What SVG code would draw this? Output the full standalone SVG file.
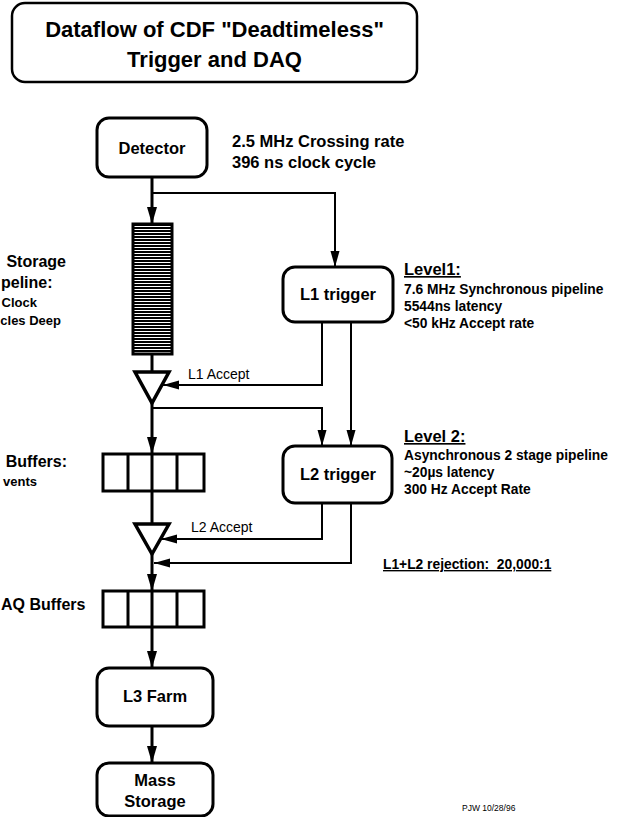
<svg xmlns="http://www.w3.org/2000/svg" width="619" height="817" viewBox="0 0 619 817">
<style>
text{font-family:"Liberation Sans",Arial,Helvetica,sans-serif;fill:#000}
.box{fill:#fff;stroke:#000;stroke-width:3}
.title{font-size:22px;font-weight:bold;text-anchor:middle}
.lbl{font-size:16.5px;font-weight:bold;text-anchor:middle}
.note{font-size:16.5px;font-weight:bold}
.sub{font-size:13.8px;font-weight:bold}
.side{font-size:16px;font-weight:bold;text-anchor:end}
.sides{font-size:13px;font-weight:bold;text-anchor:end}
.acc{font-size:14px}
.thick{fill:none;stroke:#000;stroke-width:3}
.thin{fill:none;stroke:#000;stroke-width:2}
.tri{fill:#fff;stroke:#000;stroke-width:3.5;stroke-linejoin:miter}
.cell{fill:#fff;stroke:#000;stroke-width:3}
</style>
<defs>
<marker id="big" markerUnits="userSpaceOnUse" markerWidth="18" markerHeight="12" refX="17" refY="6" orient="auto">
<path d="M0,1 L17,6 L0,11 z" fill="#000"/>
</marker>
<marker id="small" markerUnits="userSpaceOnUse" markerWidth="17" markerHeight="10" refX="16" refY="5" orient="auto">
<path d="M0,0.5 L16,5 L0,9.5 z" fill="#000"/>
</marker>
<pattern id="stripes" patternUnits="userSpaceOnUse" x="0" y="224" width="40" height="3">
<rect x="0" y="0" width="40" height="3" fill="#fff"/>
<rect x="0" y="0" width="40" height="2" fill="#000"/>
</pattern>
</defs>

<g id="title">
<rect x="12" y="3" width="405" height="79" rx="13" fill="#fff" stroke="#000" stroke-width="2.5"/>
<text class="title" x="214.5" y="37">Dataflow of CDF "Deadtimeless"</text>
<text class="title" x="214.5" y="67">Trigger and DAQ</text>
</g>

<g id="connectors">
<path class="thick" d="M152,177 V224" marker-end="url(#big)"/>
<path class="thin" d="M152,193 H335 V267" marker-end="url(#small)"/>
<path class="thick" d="M152,354 V372"/>
<path class="thin" d="M322,322 V385 H163" marker-end="url(#small)"/>
<path class="thick" d="M152,403 V454" marker-end="url(#big)"/>
<path class="thin" d="M152,408 H322 V446" marker-end="url(#small)"/>
<path class="thin" d="M351,322 V446" marker-end="url(#small)"/>
<path class="thick" d="M152,491 V524"/>
<path class="thin" d="M322,503 V539 H161" marker-end="url(#small)"/>
<path class="thin" d="M351,503 V563 H154" marker-end="url(#small)"/>
<path class="thick" d="M152,554 V591" marker-end="url(#big)"/>
<path class="thick" d="M152,627 V668" marker-end="url(#big)"/>
<path class="thick" d="M152,726 V763" marker-end="url(#big)"/>
</g>

<g id="detector">
<rect class="box" x="97" y="118" width="110" height="59" rx="12"/>
<text class="lbl" x="152" y="154">Detector</text>
</g>
<g id="detector-note">
<text class="note" x="232" y="147">2.5 MHz Crossing rate</text>
<text class="note" x="232" y="168">396 ns clock cycle</text>
</g>

<g id="pipeline">
<rect x="133" y="224" width="39" height="130" fill="url(#stripes)" stroke="#000" stroke-width="3"/>
</g>
<g id="pipeline-label">
<text class="side" x="66" y="267">Storage</text>
<text class="side" x="1" y="288" text-anchor="start" style="text-anchor:start">peline:</text>
<text class="sides" x="37" y="307">Clock</text>
<text class="sides" x="61" y="325">cles Deep</text>
</g>

<g id="l1-gate">
<polygon class="tri" points="135,372 169,372 152,403"/>
<text class="acc" x="188" y="379">L1 Accept</text>
</g>

<g id="l1-trigger">
<rect class="box" x="283" y="267" width="110" height="55" rx="12"/>
<text class="lbl" x="338" y="300">L1 trigger</text>
</g>
<g id="level1-note">
<text class="note" x="404" y="275" text-decoration="underline">Level1:</text>
<text class="sub" x="404" y="294">7.6 MHz Synchronous pipeline</text>
<text class="sub" x="404" y="311">5544ns latency</text>
<text class="sub" x="404" y="328">&lt;50 kHz Accept rate</text>
</g>

<g id="l1-buffers">
<rect class="cell" x="103" y="454" width="101" height="37"/>
<path class="thick" d="M128,454 V491 M152,454 V491 M177,454 V491"/>
</g>
<g id="l1-buffers-label">
<text class="side" x="67" y="467">Buffers:</text>
<text class="sides" x="37" y="486">vents</text>
</g>

<g id="l2-trigger">
<rect class="box" x="283" y="446" width="109" height="57" rx="12"/>
<text class="lbl" x="338" y="480">L2 trigger</text>
</g>
<g id="level2-note">
<text class="note" x="404" y="442" text-decoration="underline">Level 2:</text>
<text class="sub" x="404" y="460">Asynchronous 2 stage pipeline</text>
<text class="sub" x="404" y="477">~20µs latency</text>
<text class="sub" x="404" y="494">300 Hz Accept Rate</text>
</g>

<g id="l2-gate">
<polygon class="tri" points="135,524 169,524 152,554"/>
<text class="acc" x="191" y="532">L2 Accept</text>
</g>

<g id="rejection-note">
<text class="sub" x="383" y="569" text-decoration="underline">L1+L2 rejection:&#160; 20,000:1</text>
</g>

<g id="daq-buffers">
<rect class="cell" x="103" y="591" width="101" height="36"/>
<path class="thick" d="M128,591 V627 M152,591 V627 M177,591 V627"/>
</g>
<g id="daq-buffers-label">
<text class="side" x="1" y="610" style="text-anchor:start">AQ Buffers</text>
</g>

<g id="l3-farm">
<rect class="box" x="97" y="668" width="116" height="58" rx="12"/>
<text class="lbl" x="155" y="702">L3 Farm</text>
</g>

<g id="mass-storage">
<rect class="box" x="97" y="763" width="116" height="53" rx="12"/>
<text class="lbl" x="155" y="786">Mass</text>
<text class="lbl" x="155" y="807">Storage</text>
</g>

<g id="signature">
<text x="462" y="811" font-size="8.5">PJW  10/28/96</text>
</g>
</svg>
